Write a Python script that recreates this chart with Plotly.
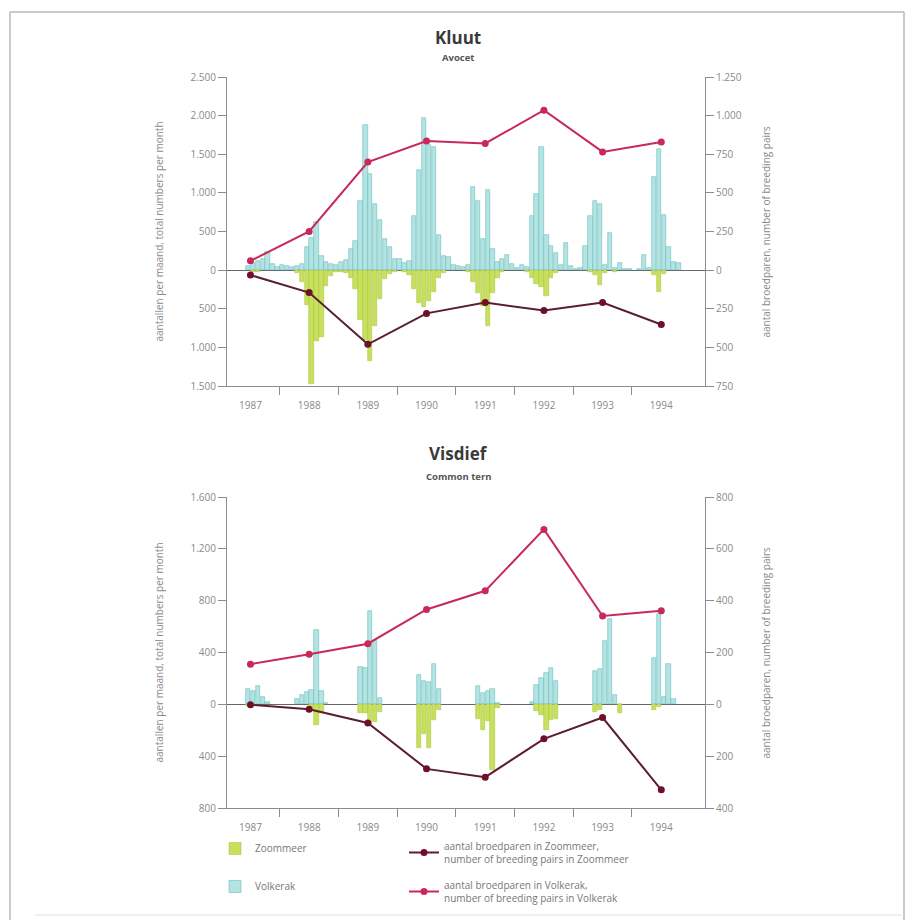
import plotly.graph_objects as go

W, H = 916, 920

years = [1987, 1988, 1989, 1990, 1991, 1992, 1993, 1994]
year_labels = [str(y) for y in years]
months = list(range(12))

# ---- Kluut / Avocet: monthly totals (Volkerak positive, Zoommeer plotted downward)
kluut_volkerak = {
    1987: [0, 0, 0, 0, 0, 50, 90, 120, 150, 240, 80, 40],
    1988: [60, 50, 40, 50, 80, 300, 420, 620, 180, 110, 80, 60],
    1989: [100, 130, 280, 380, 900, 1880, 1250, 850, 650, 400, 300, 150],
    1990: [150, 90, 120, 700, 1300, 1970, 1620, 1600, 450, 180, 170, 60],
    1991: [50, 40, 60, 1080, 900, 400, 1040, 280, 100, 150, 200, 80],
    1992: [30, 60, 40, 700, 980, 1600, 450, 310, 220, 60, 350, 50],
    1993: [20, 30, 310, 700, 890, 850, 60, 480, 30, 95, 20, 10],
    1994: [0, 10, 200, 30, 1200, 1570, 720, 300, 100, 90, 0, 0],
}
kluut_zoommeer = {
    1987: [0, 0, 0, 0, 0, 0, -30, -20, 0, 0, 0, 0],
    1988: [0, 0, 0, -40, -150, -450, -1480, -920, -860, -200, -70, -30],
    1989: [-20, -40, -100, -250, -640, -900, -1180, -725, -380, -120, -50, -20],
    1990: [0, -20, -60, -250, -420, -480, -400, -280, -100, -40, 0, 0],
    1991: [0, 0, -30, -150, -290, -460, -725, -300, -100, -30, 0, 0],
    1992: [0, 0, -20, -100, -180, -220, -340, -100, -40, 0, 0, 0],
    1993: [0, 0, 0, -30, -60, -190, -40, 0, -30, 0, 0, 0],
    1994: [0, 0, 0, 0, -60, -280, -50, 0, 0, 0, 0, 0],
}
kluut_pairs_volkerak = [60, 250, 700, 835, 820, 1035, 765, 830]
kluut_pairs_zoommeer = [-32, -145, -480, -280, -210, -262, -210, -352]

# ---- Visdief / Common tern
visdief_volkerak = {
    1987: [0, 0, 0, 0, 0, 120, 105, 145, 55, 20, 0, 0],
    1988: [0, 0, 0, 45, 70, 95, 110, 570, 100, 10, 0, 0],
    1989: [0, 0, 0, 0, 290, 280, 720, 490, 50, 0, 0, 0],
    1990: [0, 0, 0, 0, 230, 180, 170, 310, 120, 0, 0, 0],
    1991: [0, 0, 0, 0, 140, 90, 100, 120, 10, 0, 0, 0],
    1992: [0, 0, 0, 20, 150, 200, 240, 280, 180, 0, 0, 0],
    1993: [0, 0, 0, 0, 260, 270, 490, 660, 70, 0, 0, 0],
    1994: [0, 0, 0, 0, 360, 700, 60, 310, 40, 0, 0, 0],
}
visdief_zoommeer = {
    1987: [0, 0, 0, 0, 0, -10, -5, 0, 0, 0, 0, 0],
    1988: [0, 0, 0, 0, 0, 0, -30, -160, -70, 0, 0, 0],
    1989: [0, 0, 0, 0, -70, -70, -150, -140, -60, 0, 0, 0],
    1990: [0, 0, 0, 0, -340, -230, -340, -120, -40, 0, 0, 0],
    1991: [0, 0, 0, 0, -110, -200, -130, -510, -30, 0, 0, 0],
    1992: [0, 0, 0, 0, -50, -80, -200, -120, -110, 0, 0, 0],
    1993: [0, 0, 0, 0, -60, -40, 0, 0, 0, -70, 0, 0],
    1994: [0, 0, 0, 0, -40, -20, 0, 0, 0, 0, 0, 0],
}
visdief_pairs_volkerak = [155, 193, 234, 366, 438, 675, 341, 361]
visdief_pairs_zoommeer = [-2, -19, -72, -249, -281, -133, -51, -330]

# tick labels (Dutch notation, no minus sign below zero)
kluut_left_vals = [-1500, -1000, -500, 0, 500, 1000, 1500, 2000, 2500]
kluut_left_text = ["1.500", "1.000", "500", "0", "500", "1.000", "1.500", "2.000", "2.500"]
kluut_right_vals = [-750, -500, -250, 0, 250, 500, 750, 1000, 1250]
kluut_right_text = ["750", "500", "250", "0", "250", "500", "750", "1.000", "1.250"]
visdief_left_vals = [-800, -400, 0, 400, 800, 1200, 1600]
visdief_left_text = ["800", "400", "0", "400", "800", "1.200", "1.600"]
visdief_right_vals = [-400, -200, 0, 200, 400, 600, 800]
visdief_right_text = ["400", "200", "0", "200", "400", "600", "800"]

# ---------------------------------------------------------------
C_VOLK_FILL = "#b3e4e2"
C_VOLK_LINE = "#6cbcc0"
C_ZOOM_FILL = "#c8e05e"
C_ZOOM_LINE = "#a9c83e"
C_LINE_VOLK = "#c8285a"
C_LINE_ZOOM = "#5a1e2e"
C_MARK_ZOOM = "#6e1029"
FONT = "Open Sans"
TXT = "#8a8a8a"
AX = "#8c8c8c"


def flat(d):
    xs, ys = [], []
    for y in years:
        for m in months:
            v = d[y][m]
            xs.append(y + (m + 0.5) / 12)
            ys.append(v if v != 0 else None)
    return xs, ys


def px_x(x):
    return x / W


def px_y(y):
    return 1 - y / H


fig = go.Figure()

mid = [y + 0.5 for y in years]
bw = 1 / 12 * 0.88

panels = [
    (kluut_volkerak, kluut_zoommeer, kluut_pairs_volkerak, kluut_pairs_zoommeer, "x", "y", "y2", True),
    (visdief_volkerak, visdief_zoommeer, visdief_pairs_volkerak, visdief_pairs_zoommeer, "x2", "y3", "y4", False),
]

for volk, zoom, pv, pz, xa, ya, ya2, leg in panels:
    xz, yz = flat(zoom)
    xv, yv = flat(volk)
    fig.add_trace(go.Bar(x=xz, y=yz, width=bw, name="Zoommeer", xaxis=xa, yaxis=ya,
                         marker=dict(color=C_ZOOM_FILL, line=dict(color=C_ZOOM_LINE, width=0.6)),
                         showlegend=leg, legend="legend", legendgroup="bz", legendrank=1))
    fig.add_trace(go.Bar(x=xv, y=yv, width=bw, name="Volkerak", xaxis=xa, yaxis=ya,
                         marker=dict(color=C_VOLK_FILL, line=dict(color=C_VOLK_LINE, width=0.6)),
                         showlegend=leg, legend="legend", legendgroup="bv", legendrank=2))
    fig.add_trace(go.Scatter(x=mid, y=pz, mode="lines+markers", xaxis=xa, yaxis=ya2,
                             name="aantal broedparen in Zoommeer,<br>number of breeding pairs in Zoommeer",
                             line=dict(color=C_LINE_ZOOM, width=2),
                             marker=dict(color=C_MARK_ZOOM, size=7),
                             showlegend=leg, legend="legend2", legendgroup="lz", legendrank=3))
    fig.add_trace(go.Scatter(x=mid, y=pv, mode="lines+markers", xaxis=xa, yaxis=ya2,
                             name="aantal broedparen in Volkerak,<br>number of breeding pairs in Volkerak",
                             line=dict(color=C_LINE_VOLK, width=2),
                             marker=dict(color=C_LINE_VOLK, size=7),
                             showlegend=leg, legend="legend2", legendgroup="lv", legendrank=4))

xdom = [px_x(227), px_x(705)]
xrange = [1987.1, 1995.245]
top_dom = [px_y(386), px_y(77)]
bot_dom = [px_y(808), px_y(497)]


def xaxis_cfg(anchor):
    return dict(domain=xdom, range=xrange, anchor=anchor, showgrid=False, zeroline=False,
                showline=True, linecolor=AX, linewidth=1, automargin=False,
                tickmode="array", tickvals=mid, ticktext=year_labels, ticks="",
                ticklabelstandoff=10,
                tickfont=dict(family=FONT, size=10, color=TXT),
                minor=dict(tickmode="array", tickvals=years[1:], ticks="outside",
                           ticklen=8, tickcolor=AX, tickwidth=1, showgrid=False))


def yaxis_cfg(dom, rng, vals, text, side, overlay=None, anchor=None):
    d = dict(range=rng, side=side, showgrid=False, showline=True, linecolor=AX, linewidth=1,
             tickmode="array", tickvals=vals, ticktext=text, ticks="outside", ticklen=8,
             tickcolor=AX, tickwidth=1, tickfont=dict(family=FONT, size=10, color=TXT),
             zeroline=False, automargin=False)
    if overlay:
        d["overlaying"] = overlay
        d["anchor"] = anchor
    else:
        d["domain"] = dom
        d["anchor"] = anchor
        d["zeroline"] = True
        d["zerolinecolor"] = "#666"
        d["zerolinewidth"] = 1
    return d


fig.update_layout(
    width=W, height=H, autosize=False,
    margin=dict(l=0, r=0, t=0, b=0, pad=0, autoexpand=False),
    paper_bgcolor="white", plot_bgcolor="rgba(0,0,0,0)",
    barmode="overlay", bargap=0,
    font=dict(family=FONT, color=TXT),
    xaxis=xaxis_cfg("y"),
    xaxis2=xaxis_cfg("y3"),
    yaxis=yaxis_cfg(top_dom, [-1500, 2500], kluut_left_vals, kluut_left_text, "left", anchor="x"),
    yaxis2=yaxis_cfg(top_dom, [-750, 1250], kluut_right_vals, kluut_right_text, "right", overlay="y", anchor="x"),
    yaxis3=yaxis_cfg(bot_dom, [-800, 1600], visdief_left_vals, visdief_left_text, "left", anchor="x2"),
    yaxis4=yaxis_cfg(bot_dom, [-400, 800], visdief_right_vals, visdief_right_text, "right", overlay="y3", anchor="x2"),
    legend=dict(x=px_x(215), y=px_y(834), xanchor="left", yanchor="top",
                font=dict(family=FONT, size=10, color="#777"), bgcolor="rgba(0,0,0,0)",
                tracegroupgap=19, itemwidth=30, traceorder="grouped"),
    legend2=dict(x=px_x(404), y=px_y(833), xanchor="left", yanchor="top",
                 font=dict(family=FONT, size=10, color="#777"), bgcolor="rgba(0,0,0,0)",
                 tracegroupgap=10, itemwidth=30, traceorder="grouped"),
)

ann = []


def title(text, y, size, bold=True, color="#3a3a3a"):
    ann.append(dict(x=px_x(458), y=px_y(y), xref="paper", yref="paper", showarrow=False,
                    text=f"<b>{text}</b>" if bold else text,
                    font=dict(family=FONT, size=size, color=color), xanchor="center", yanchor="middle"))


title("Kluut", 37, 17)
title("Avocet", 58, 9.5, color="#555")
title("Visdief", 453, 17)
title("Common tern", 477, 9.5, color="#555")

for yc in [(77 + 386) / 2, (497 + 808) / 2]:
    ann.append(dict(x=px_x(158), y=px_y(yc), xref="paper", yref="paper", showarrow=False,
                    text="aantallen per maand, total numbers per month", textangle=-90,
                    xanchor="center", yanchor="middle",
                    font=dict(family=FONT, size=10, color=TXT)))
    ann.append(dict(x=px_x(765), y=px_y(yc), xref="paper", yref="paper", showarrow=False,
                    text="aantal broedparen, number of breeding pairs", textangle=-90,
                    xanchor="center", yanchor="middle",
                    font=dict(family=FONT, size=10, color=TXT)))

fig.update_layout(annotations=ann)

border = "#b8b8b8"
fig.update_layout(shapes=[
    dict(type="line", xref="paper", yref="paper", x0=px_x(10), x1=px_x(10), y0=px_y(12), y1=0,
         line=dict(color=border, width=1.5)),
    dict(type="line", xref="paper", yref="paper", x0=px_x(10), x1=px_x(904), y0=px_y(12), y1=px_y(12),
         line=dict(color=border, width=1.5)),
    dict(type="line", xref="paper", yref="paper", x0=px_x(904), x1=px_x(904), y0=px_y(12), y1=0,
         line=dict(color=border, width=1.5)),
    dict(type="line", xref="paper", yref="paper", x0=px_x(35), x1=px_x(904), y0=px_y(915), y1=px_y(915),
         line=dict(color="#e2e2e2", width=1)),
])

fig.write_html("out.html", config={"displayModeBar": False},
               post_script="document.body.style.margin='0px';document.body.style.overflow='hidden';")
